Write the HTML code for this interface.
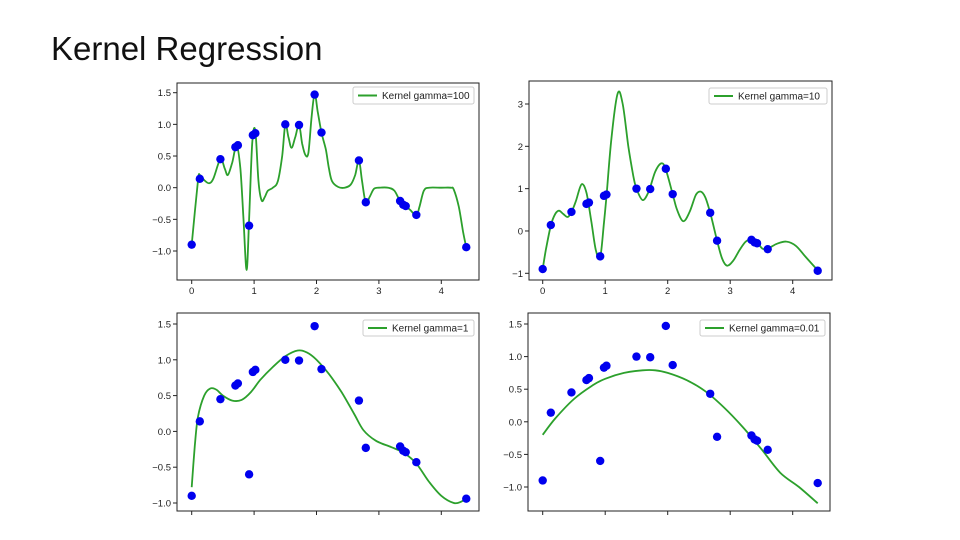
<!DOCTYPE html>
<html><head><meta charset="utf-8"><style>
body{margin:0;width:960px;height:540px;background:#fff;overflow:hidden;font-family:"Liberation Sans",sans-serif}
#title{position:absolute;left:51px;top:30px;font-size:33px;color:#111;margin:0;font-weight:normal}
svg{position:absolute;left:0;top:0}
</style></head><body>
<h1 id="title">Kernel Regression</h1>
<svg id="svg" width="960" height="540"></svg>
<script>
const pointsX=[0,0.13,0.46,0.7,0.74,0.92,0.98,1.02,1.5,1.72,1.97,2.08,2.68,2.79,3.34,3.39,3.43,3.6,4.4];
const pointsY=[-0.9,0.14,0.45,0.64,0.67,-0.6,0.83,0.86,1.0,0.99,1.47,0.87,0.43,-0.23,-0.21,-0.27,-0.29,-0.43,-0.94];
const xTicks=[0,1,2,3,4];
const curve100X=[0,0.1,0.13,0.2,0.28,0.35,0.46,0.53,0.58,0.65,0.72,0.78,0.83,0.88,0.92,0.97,1.02,1.07,1.12,1.17,1.22,1.3,1.38,1.45,1.5,1.55,1.6,1.66,1.72,1.77,1.82,1.87,1.92,1.97,2.02,2.08,2.15,2.2,2.25,2.35,2.45,2.55,2.62,2.68,2.73,2.79,2.85,2.92,3.0,3.15,3.25,3.34,3.43,3.5,3.6,3.65,3.72,3.8,4.0,4.15,4.2,4.28,4.35,4.4];
const curve100Y=[-0.9,0.1,0.2,0.12,0.07,0.15,0.45,0.3,0.2,0.4,0.67,0.3,-0.5,-1.3,-0.5,0.7,0.9,0.1,-0.2,-0.15,-0.05,0.0,0.1,0.5,1.0,0.8,0.63,0.8,0.99,0.7,0.52,0.55,1.1,1.48,1.2,0.87,0.6,0.3,0.1,0.01,0.0,0.05,0.2,0.43,0.1,-0.24,-0.15,-0.02,0,0,-0.05,-0.21,-0.29,-0.35,-0.44,-0.3,-0.05,0,0,0,-0.03,-0.3,-0.7,-0.94];
const curve10X=[0,0.05,0.13,0.2,0.26,0.33,0.4,0.46,0.53,0.62,0.7,0.78,0.85,0.92,0.98,1.02,1.1,1.2,1.28,1.37,1.45,1.5,1.6,1.7,1.8,1.9,1.97,2.08,2.15,2.25,2.35,2.45,2.53,2.6,2.68,2.79,2.87,2.95,3.05,3.15,3.25,3.34,3.43,3.52,3.62,3.75,3.9,4.05,4.2,4.4];
const curve10Y=[-0.9,-0.45,0.13,0.4,0.48,0.4,0.33,0.45,0.7,1.1,0.9,0.2,-0.45,-0.62,0.2,0.82,2.2,3.25,3.0,2.0,1.3,1.0,0.73,0.95,1.4,1.6,1.45,0.87,0.5,0.23,0.45,0.85,0.93,0.8,0.43,-0.23,-0.65,-0.82,-0.7,-0.45,-0.25,-0.2,-0.27,-0.42,-0.4,-0.3,-0.25,-0.35,-0.6,-0.93];
const curve1X=[0,0.05,0.1,0.2,0.3,0.4,0.5,0.65,0.8,0.95,1.1,1.3,1.5,1.7,1.85,2.0,2.2,2.4,2.6,2.75,2.95,3.2,3.4,3.6,3.8,4.0,4.2,4.32,4.4];
const curve1Y=[-0.78,-0.2,0.2,0.5,0.6,0.58,0.5,0.43,0.44,0.55,0.72,0.9,1.05,1.13,1.1,1.0,0.8,0.55,0.25,0.02,-0.13,-0.22,-0.3,-0.45,-0.7,-0.9,-1.0,-0.98,-0.93];
const curve001X=[0,0.2,0.5,0.8,1.0,1.3,1.6,1.8,2.0,2.3,2.6,2.9,3.2,3.5,3.8,4.1,4.4];
const curve001Y=[-0.2,0.05,0.35,0.56,0.66,0.75,0.79,0.79,0.75,0.64,0.47,0.22,-0.08,-0.42,-0.78,-1.0,-1.25];
const yTicksA=[-1,-0.5,0,0.5,1,1.5];
const yTicksB=[-1,0,1,2,3];

const NS="http://www.w3.org/2000/svg";
const svg=document.getElementById('svg');
function el(t,a,p){const e=document.createElementNS(NS,t);for(const k in a)e.setAttribute(k,a[k]);(p||svg).appendChild(e);return e;}
function fmt(v,dec){let s=v.toFixed(dec);return v<0?'\u2212'+s.slice(1):s;}
function smooth(pts){
 let d='M'+pts[0][0].toFixed(1)+','+pts[0][1].toFixed(1);
 for(let i=0;i<pts.length-1;i++){
  const p0=pts[i-1]||pts[i],p1=pts[i],p2=pts[i+1],p3=pts[i+2]||p2;
  const t=1/6;
  const c1=[p1[0]+(p2[0]-p0[0])*t,p1[1]+(p2[1]-p0[1])*t];
  const c2=[p2[0]-(p3[0]-p1[0])*t,p2[1]-(p3[1]-p1[1])*t];
  d+='C'+c1[0].toFixed(1)+','+c1[1].toFixed(1)+' '+c2[0].toFixed(1)+','+c2[1].toFixed(1)+' '+p2[0].toFixed(1)+','+p2[1].toFixed(1);
 }
 return d;
}
const panels=[
 {name:'gamma-100',L:177,T:83,R:479,B:280,x0:191.7,xs:62.4,yv:[-1,1.5],yp:[251,92.7],ticks:yTicksA,dec:1,cx:curve100X,cy:curve100Y,leg:'Kernel gamma=100',lg:[353,87,121,17],xl:true},
 {name:'gamma-10',L:529,T:81,R:832,B:280,x0:542.7,xs:62.5,yv:[-1,3],yp:[273.3,104],ticks:yTicksB,dec:0,cx:curve10X,cy:curve10Y,leg:'Kernel gamma=10',lg:[709,88,118,16],xl:true},
 {name:'gamma-1',L:177,T:313,R:479,B:511,x0:191.7,xs:62.4,yv:[-1,1.5],yp:[503,324],ticks:yTicksA,dec:1,cx:curve1X,cy:curve1Y,leg:'Kernel gamma=1',lg:[363,320,111,16],xl:false},
 {name:'gamma-0-01',L:528,T:313,R:830,B:511,x0:542.7,xs:62.5,yv:[-1,1.5],yp:[487,324],ticks:yTicksA,dec:1,cx:curve001X,cy:curve001Y,leg:'Kernel gamma=0.01',lg:[700,320,125,16],xl:false}
];
panels.forEach(p=>{
 const g=el('g',{});
 
 
 const X=v=>p.x0+v*p.xs;
 const Y=v=>p.yp[0]+(v-p.yv[0])*(p.yp[1]-p.yp[0])/(p.yv[1]-p.yv[0]);
 el('rect',{x:p.L,y:p.T,width:p.R-p.L,height:p.B-p.T,fill:'#fff',stroke:'#222','stroke-width':1},g);
 xTicks.forEach(t=>{
  const tk=el('line',{x1:X(t),x2:X(t),y1:p.B,y2:p.B+4,stroke:'#222'},g);
  
  
  if(p.xl){const tx=el('text',{x:X(t),y:p.B+14,'font-size':9.5,'text-anchor':'middle',fill:'#222'},g);tx.textContent=String(t);
   
   }
 });
 p.ticks.forEach(t=>{
  el('line',{x1:p.L-4,x2:p.L,y1:Y(t),y2:Y(t),stroke:'#222'},g);
  const tx=el('text',{x:p.L-6,y:Y(t)+3.5,'font-size':9.5,'text-anchor':'end',fill:'#222'},g);
  tx.textContent=fmt(t,p.dec);
  
  
 });
 const pts=p.cx.map((x,i)=>[X(x),Y(p.cy[i])]);
 const path=el('path',{d:smooth(pts),fill:'none',stroke:'#2ca02c','stroke-width':1.8,'stroke-linejoin':'round'},g);
 
 
 pointsX.forEach((x,i)=>{
  const c=el('circle',{cx:X(x),cy:Y(pointsY[i]),r:4.2,fill:'#0000ee'},g);
  
  
 });
 const [lx,ly,lw,lh]=p.lg;
 const lg=el('g',{},g);
 
 
 el('rect',{x:lx,y:ly,width:lw,height:lh,fill:'#fff',stroke:'#ccc','stroke-width':1,rx:2},lg);
 el('line',{x1:lx+5,x2:lx+24,y1:ly+lh/2,y2:ly+lh/2,stroke:'#2ca02c','stroke-width':2},lg);
 const lt=el('text',{x:lx+29,y:ly+lh/2+3.5,'font-size':10,fill:'#222'},lg);
 lt.textContent=p.leg;
});
</script>
</body></html>
